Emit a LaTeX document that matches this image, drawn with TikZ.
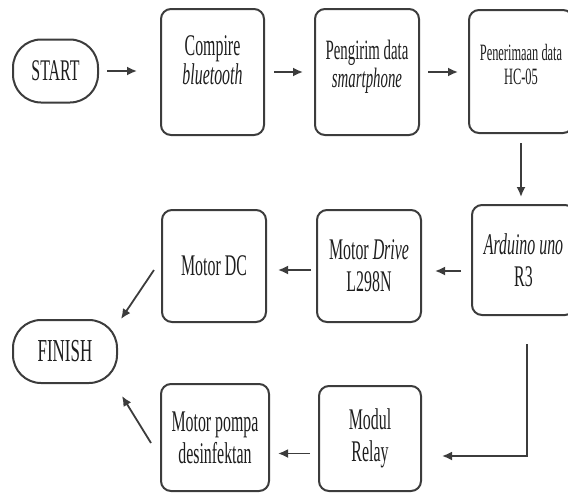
\documentclass[tikz,border=0pt]{standalone}
\usepackage{fontspec}
\setmainfont{Liberation Serif}[FakeStretch=0.53]
\usetikzlibrary{arrows.meta,positioning}
\definecolor{garis}{HTML}{3C3C3C}
\definecolor{tinta}{HTML}{1E1E1E}

\begin{document}
\begin{tikzpicture}[
				x=0.5pt,y=-0.5pt,
				every node/.style={text=tinta}]
			\tikzstyle{kotak}=[draw=garis,line width=1pt,rounded corners=5pt,minimum width=52pt,inner sep=0pt,align=center,font=\fontsize{15}{16}\selectfont]
			\tikzstyle{kapsul}=[draw=garis,line width=1pt,rounded corners=14pt,minimum height=31.5pt,inner sep=0pt]
			\tikzstyle{teks}=[inner sep=0pt,align=center]
			\tikzstyle{panah}=[draw=garis,line width=0.9pt,-{Latex[length=5pt,width=4.5pt]}]
			\useasboundingbox (0,0) rectangle (568,493);
			\clip (0,0) rectangle (568,493);
			% baris atas
			\node[kapsul,minimum width=42.5pt,font=\fontsize{15}{16}\selectfont] (start) at (55.5,71) {START};
			\node[kotak,minimum width=51.5pt,minimum height=63pt] (compire) at (212.5,72) {};
			\node[kotak,minimum height=63pt] (pengirim) at (367,72) {};
			\node[kotak,minimum height=61.5pt] (penerimaan) at (521,71.5) {};
			\node[teks,font=\fontsize{15}{13.5}\selectfont,below=13.5pt of compire.north] (compire-teks) {Compire\\\textit{bluetooth}};
			\node[teks,font=\fontsize{14}{12}\selectfont,below=16pt of pengirim.north] (pengirim-teks) {Pengirim data\\\textit{smartphone}};
			\node[teks,font=\fontsize{11.7}{12}\selectfont,below=17.5pt of penerimaan.north] (penerimaan-teks) {Penerimaan data\\HC-05};
			% baris tengah
			\node[kotak,minimum width=51.5pt,minimum height=55pt] (arduino) at (523.5,260) {\textit{Arduino uno}\\R3};
			\node[kotak,minimum height=56pt] (drive) at (369,266) {Motor \textit{Drive}\\L298N};
			\node[kotak,minimum height=56pt] (dc) at (214,266) {Motor DC};
			\node[kapsul,minimum width=52pt,font=\fontsize{16}{17}\selectfont] (finish) at (65,351.5) {FINISH};
			% baris bawah
			\node[kotak,minimum width=54pt,minimum height=53.5pt] (pompa) at (215,437.5) {Motor pompa\\desinfektan};
			\node[kotak,minimum width=51pt,minimum height=52.5pt] (relay) at (370,438.5) {Modul\\Relay};
			% panah
			\draw[panah,shorten <=4pt,shorten >=11.5pt] (start.east) -- (start.east -| compire.west);
			\draw[panah,shorten <=4.5pt,shorten >=5.5pt] (compire) -- (pengirim);
			\draw[panah,shorten <=4pt,shorten >=5pt] (pengirim.east) -- (pengirim.east -| penerimaan.west);
			\draw[panah,shorten <=4.5pt,shorten >=3.5pt] (penerimaan) -- (penerimaan |- arduino.north);
			\draw[panah,shorten <=5pt,shorten >=6.5pt] ([yshift=-5.5pt]arduino.west) -- ([yshift=-5.5pt]arduino.west -| drive.east);
			\draw[panah,shorten <=2.5pt,shorten >=5.5pt] ([yshift=-2pt]drive.west) -- ([yshift=-2pt]drive.west -| dc.east);
			\draw[panah] ([xshift=-3.5pt,yshift=-2pt]dc.west) -- ([xshift=1.5pt]finish.north east);
			\draw[panah] ([xshift=-4.5pt,yshift=-2.75pt]pompa.west) -- ([xshift=2pt,yshift=-6pt]finish.south east);
			\draw[panah,shorten <=4pt,shorten >=4pt] ([yshift=-7.5pt]relay.west) -- ([yshift=-7.5pt]relay.west -| pompa.east);
			\draw[panah] ([xshift=1.75pt,yshift=-14pt]arduino.south) |- ([xshift=10pt,yshift=-8.75pt]relay.east);
		\end{tikzpicture}
\end{document}
